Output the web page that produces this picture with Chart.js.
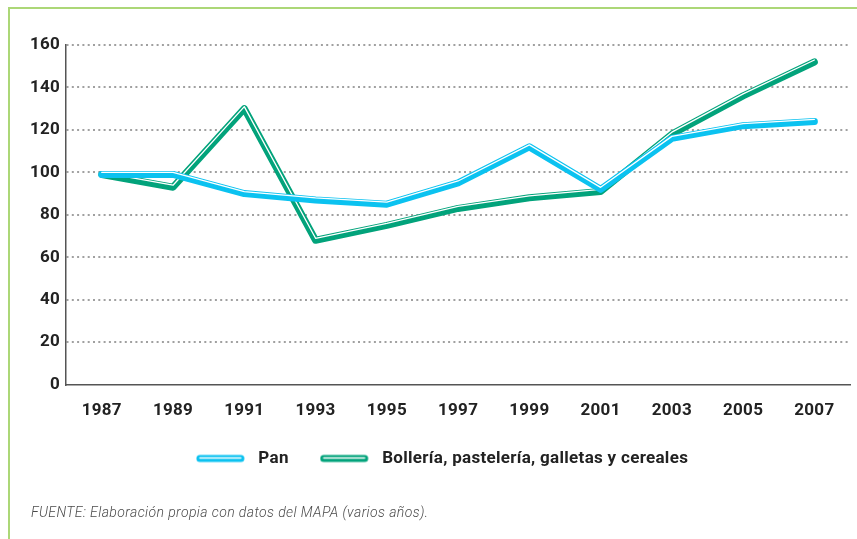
<!DOCTYPE html>
<html>
<head>
<meta charset="utf-8">
<script src="https://cdn.jsdelivr.net/npm/chart.js@4.4.1/dist/chart.umd.min.js"></script>
<style>
  html, body { margin: 0; padding: 0; background: #fff; }
  #wrap { position: relative; width: 857px; height: 539px; overflow: hidden; }
  #frame { position: absolute; left: 8px; top: 7px; width: 900px; height: 600px;
           border-left: 2.5px solid #acd777; border-top: 2.5px solid #acd777; }
  #chart { position: absolute; left: 0; top: 0; }
  #fuente { position: absolute; left: 31px; top: 504px; font-family: Roboto, sans-serif;
            font-style: italic; font-weight: 300; font-size: 14px; letter-spacing: 0.4px; color: #4a4a4a; }
</style>
</head>
<body>
<div id="wrap">
  <div id="frame"></div>
  <canvas id="chart" width="857" height="539"></canvas>
  <div id="fuente">FUENTE: Elaboración propia con datos del MAPA (varios años).</div>
</div>
<script>
(function () {
    "use strict";

    var years = ["1987", "1989", "1991", "1993", "1995", "1997", "1999", "2001", "2003", "2005", "2007"];
    var pan = [99, 99, 90, 87, 85, 95, 112, 92, 116, 122, 124];
    var bolleria = [99, 93, 130, 68, 75, 83, 88, 91, 118, 136, 152];
    var yTicks = [0, 20, 40, 60, 80, 100, 120, 140, 160];

    var blue = "#0bc2f0";
    var green = "#02a37b";

    // shifts the thin white highlight a bit above the thick line
    var shine = {
        id: "shine",
        beforeUpdate: function (chart) { chart.ctx.letterSpacing = "0.3px"; },
        beforeDraw: function (chart) { chart.ctx.letterSpacing = "0.3px"; },
        afterLayout: function (chart) {
            // legend sits a little right of centre in the original
            chart.legend.left += 5;
            chart.legend.right += 5;
        },
        beforeDatasetDraw: function (chart, args) {
            if (args.meta._dataset.highlight) {
                chart.ctx.save();
                chart.ctx.translate(0, -2);
            }
        },
        afterDatasetDraw: function (chart, args) {
            if (args.meta._dataset.highlight) {
                chart.ctx.restore();
            }
        }
    };

    // legend marker: rounded bar with the same white streak
    function marker(color) {
        var c = document.createElement("canvas");
        c.width = 54;
        c.height = 10;
        var g = c.getContext("2d");
        g.lineCap = "round";
        g.strokeStyle = color;
        g.lineWidth = 7;
        g.beginPath(); g.moveTo(4, 5); g.lineTo(45, 5); g.stroke();
        g.strokeStyle = "#fff";
        g.lineWidth = 1.3;
        g.beginPath(); g.moveTo(4, 4.5); g.lineTo(45, 4.5); g.stroke();
        return c;
    }

    function thick(label, data, color, order) {
        return {
            label: label, data: data, borderColor: color, backgroundColor: color,
            borderWidth: 7, pointRadius: 0, tension: 0, order: order,
            pointStyle: marker(color),
            borderCapStyle: "round", borderJoinStyle: "round"
        };
    }
    function hi(data, order) {
        return {
            label: "", data: data, borderColor: "#ffffff", borderWidth: 1.3,
            pointRadius: 0, tension: 0, order: order, highlight: true,
            borderCapStyle: "round", borderJoinStyle: "round"
        };
    }

    var ctx = document.getElementById("chart");
    var myChart = new Chart(ctx, {
        type: "line",
        data: {
            labels: years,
            datasets: [
                thick("Pan", pan, blue, 1),
                thick("Bollería, pastelería, galletas y cereales", bolleria, green, 3),
                hi(pan, 0),
                hi(bolleria, 2)
            ]
        },
        plugins: [shine],
        options: {
            responsive: false,
            animation: false,
            layout: { padding: { left: 24, right: 7, top: 45, bottom: 62 } },
            scales: {
                x: {
                    offset: true,
                    grid: { display: false, drawTicks: false },
                    border: { display: true, color: "#555", width: 1.5 },
                    ticks: {
                        padding: 16, color: "#222",
                        font: { family: "Roboto", weight: "bold", size: 17 }
                    }
                },
                y: {
                    min: 0, max: 160,
                    afterBuildTicks: function (axis) {
                        axis.ticks = yTicks.map(function (v) { return { value: v }; });
                    },
                    grid: {
                        color: function (c) { return c.tick && c.tick.value === 0 ? "rgba(0,0,0,0)" : "#a0a0a0"; },
                        lineWidth: 2, drawTicks: false
                    },
                    border: { display: true, color: "#555", width: 1.5, dash: [2, 3.3] },
                    ticks: {
                        padding: 6, color: "#222",
                        font: { family: "Roboto", weight: "bold", size: 17 }
                    }
                }
            },
            plugins: {
                legend: {
                    position: "bottom",
                    labels: {
                        filter: function (item, data) { return !data.datasets[item.datasetIndex].highlight; },
                        sort: function (a, b) { return a.datasetIndex - b.datasetIndex; },
                        generateLabels: function (chart) {
                            var items = Chart.defaults.plugins.legend.labels.generateLabels(chart);
                            // a little air after "Pan" before the next marker
                            items.forEach(function (it) {
                                if (it.datasetIndex === 0) { it.text = it.text + "\u2002\u2002"; }
                            });
                            return items;
                        },
                        usePointStyle: true, pointStyleWidth: 54,
                        padding: 13,
                        color: "#222",
                        font: { family: "Roboto", weight: "bold", size: 17 }
                    }
                },
                tooltip: { enabled: false }
            }
        }
    });
})();
</script>
</body>
</html>
